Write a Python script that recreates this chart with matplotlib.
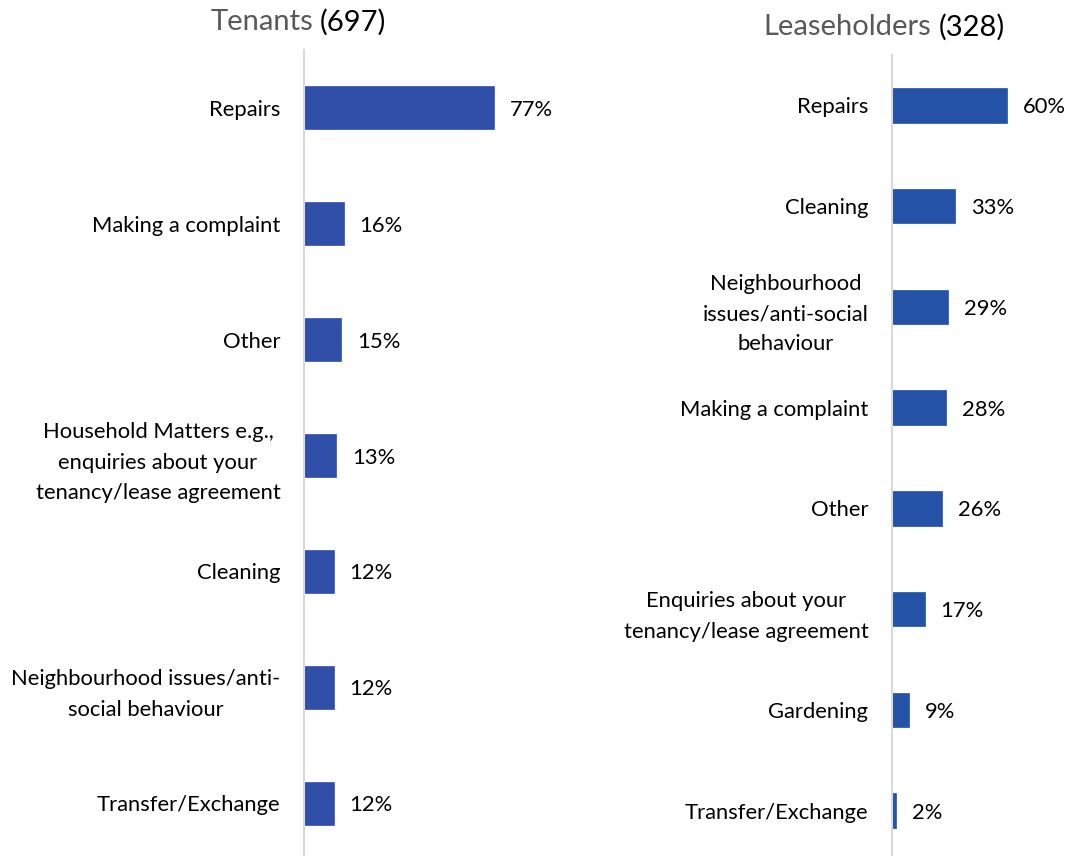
import matplotlib.pyplot as plt

plt.rcParams['font.family'] = ['Lato', 'DejaVu Sans']

# Data
ten_labels = ['Repairs', 'Making a complaint', 'Other',
              'Household Matters e.g.,\nenquiries about your\ntenancy/lease agreement',
              'Cleaning', 'Neighbourhood issues/anti-\nsocial behaviour', 'Transfer/Exchange']
ten_values = [77, 16, 15, 13, 12, 12, 12]

lease_labels = ['Repairs', 'Cleaning', 'Neighbourhood\nissues/anti-social\nbehaviour',
                'Making a complaint', 'Other',
                'Enquiries about your\ntenancy/lease agreement', 'Gardening', 'Transfer/Exchange']
lease_values = [60, 33, 29, 28, 26, 17, 9, 2]

ten_clr = '#2F4FA8'
lease_clr = '#2352A6'
axclr = '#D9D9D9'
W, H = 1069, 856
fs = 15.8

fig = plt.figure(figsize=(W/100, H/100), dpi=100)


def panel(rect, labels, values, clr, xmax, barh):
    ax = fig.add_axes(rect)
    y = range(len(values))
    ax.barh(y, values, height=barh, color=clr, edgecolor=clr, linewidth=0.5)
    ax.set_ylim(len(values) - 0.5, -0.5)
    ax.set_xlim(0, xmax)
    ax.set_yticks(list(y))
    ax.set_yticklabels(labels, fontsize=fs, color='black', multialignment='center',
                       linespacing=1.65)
    ax.tick_params(axis='y', length=0, pad=17)
    ax.set_xticks([])
    for s in ['top', 'right', 'bottom']:
        ax.spines[s].set_visible(False)
    ax.spines['left'].set_color(axclr)
    ax.spines['left'].set_linewidth(1.5)
    for yi, v in zip(y, values):
        ax.annotate(f'{v}%', (v, yi), xytext=(11.5, 0), textcoords='offset points',
                    va='center_baseline', ha='left', fontsize=fs, color='black')
    return ax


# Left: axis from x=304, 2.47 px per %, rows 50..861 px
panel([304/W, 1 - 861/H, 247/W, 811/H], ten_labels, ten_values, ten_clr, 100, 0.37)
# Right: axis from x=892, 1.92 px per %, rows 55..861 px
panel([892/W, 1 - 861/H, (W - 892)/W, 806/H], lease_labels, lease_values, lease_clr,
      (W - 892)/1.92, 0.34)

# Titles: grey group name, black count
fig.text(313/W, 1 - 22/H, 'Tenants', ha='right', va='center', fontsize=21, color='#595959')
fig.text(320/W, 1 - 22/H, '(697)', ha='left', va='center', fontsize=21, color='black')
fig.text(931/W, 1 - 27/H, 'Leaseholders', ha='right', va='center', fontsize=21, color='#595959')
fig.text(939/W, 1 - 27/H, '(328)', ha='left', va='center', fontsize=21, color='black')

plt.savefig('out.png', dpi=100)
